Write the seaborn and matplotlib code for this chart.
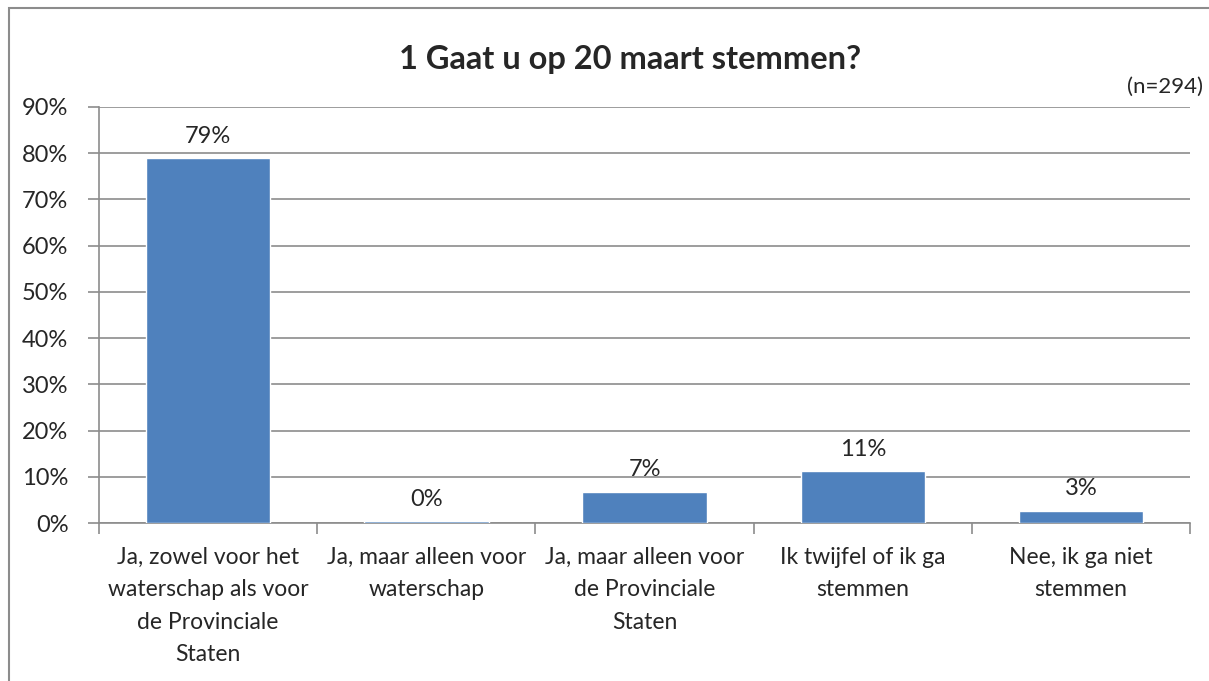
import matplotlib
matplotlib.use("Agg")
import matplotlib.pyplot as plt
import seaborn as sns
import pandas as pd
from matplotlib.patches import Rectangle
from matplotlib.ticker import FixedLocator

# data (n=294)
categories = [
    "Ja, zowel voor het\nwaterschap als voor\nde Provinciale\nStaten",
    "Ja, maar alleen voor\nwaterschap",
    "Ja, maar alleen voor\nde Provinciale\nStaten",
    "Ik twijfel of ik ga\nstemmen",
    "Nee, ik ga niet\nstemmen",
]
percentages = [78.9, 0.34, 6.8, 11.2, 2.7]
value_labels = ["79%", "0%", "7%", "11%", "3%"]
y_ticks = [0, 10, 20, 30, 40, 50, 60, 70, 80, 90]

df = pd.DataFrame({"cat": categories, "pct": percentages})

sns.set_style("white")
plt.rcParams["font.family"] = ["Lato", "DejaVu Sans"]

fig = plt.figure(figsize=(12.09, 6.81), dpi=100)
ax = fig.add_axes([0.0819, 0.232, 0.9024, 0.611])

# outer chart frame
fig.patches.append(Rectangle((9 / 1209, -0.05), 1.2, 1 - 8 / 681 + 0.05,
                             transform=fig.transFigure, fill=False,
                             edgecolor="#8c8c8c", linewidth=1.5))

sns.barplot(data=df, x="cat", y="pct", color="#4F81BD", width=0.57,
            saturation=1, ax=ax, zorder=3)

for i, (v, lab) in enumerate(zip(percentages, value_labels)):
    ax.text(i, v + 2.5, lab, ha="center", va="bottom", fontsize=17)

ax.set_xlim(-0.5, len(categories) - 0.5)
ax.set_ylim(0, 90)
ax.set_yticks(y_ticks)
ax.set_yticklabels([f"{t}%" for t in y_ticks], fontsize=17)
ax.yaxis.grid(True, color="#8c8c8c", linewidth=1.2, zorder=0)
ax.set_axisbelow(True)
ax.tick_params(axis="y", length=8, width=1.2, color="#8c8c8c", pad=14, left=True)
ax.set_xticks(range(len(categories)))
ax.set_xticklabels(categories, fontsize=16.5, linespacing=1.68)
ax.tick_params(axis="x", which="major", length=0, pad=17)
ax.xaxis.set_minor_locator(FixedLocator([i - 0.5 for i in range(len(categories) + 1)]))
ax.tick_params(axis="x", which="minor", length=8, width=1.2, color="#8c8c8c", bottom=True)
ax.set_xlabel("")
ax.set_ylabel("")

for side in ["top", "right"]:
    ax.spines[side].set_visible(False)
for side in ["left", "bottom"]:
    ax.spines[side].set_color("#8c8c8c")
    ax.spines[side].set_linewidth(1.2)

fig.text(0.521, 0.913, "1 Gaat u op 20 maart stemmen?", ha="center", va="center",
         fontsize=23.5, fontweight="bold")
fig.text(0.995, 0.872, "(n=294)", ha="right", va="center", fontsize=16)

fig.savefig("out.png", dpi=100)
